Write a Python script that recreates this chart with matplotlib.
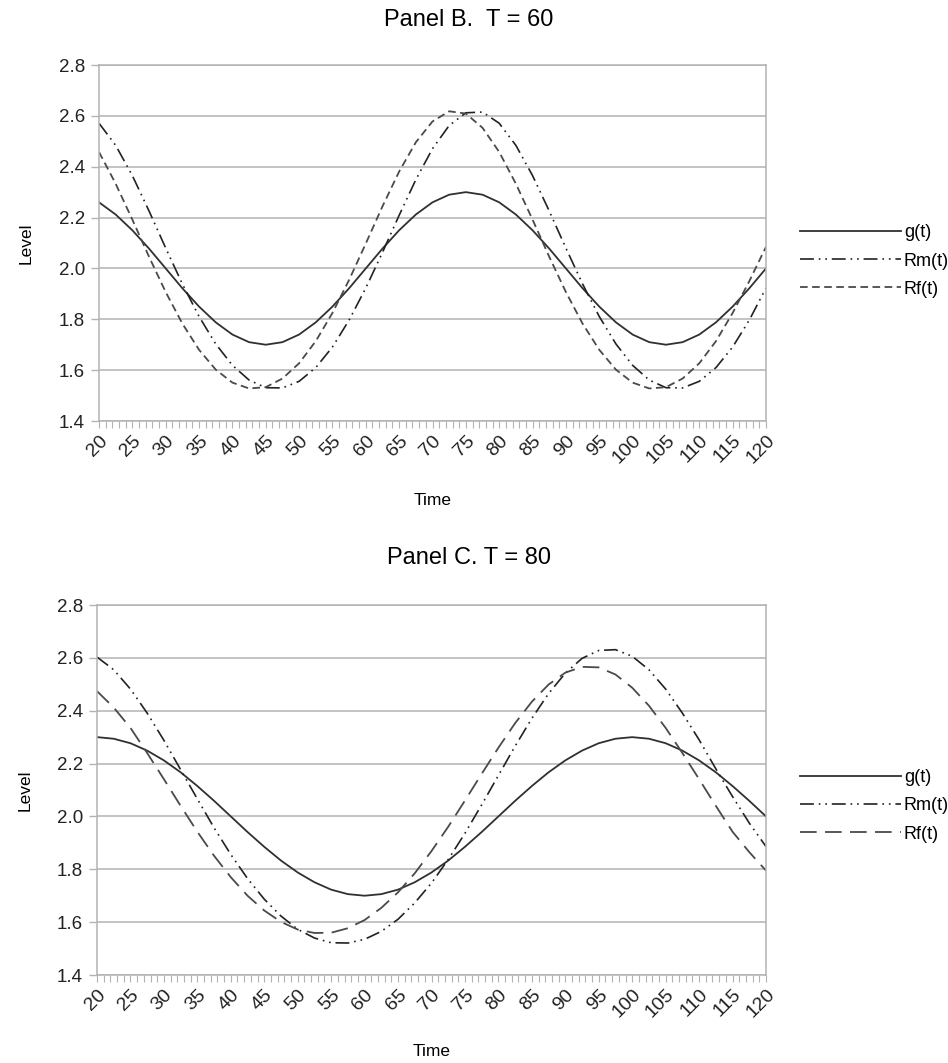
import matplotlib
matplotlib.use("Agg")
import matplotlib.pyplot as plt
import numpy as np
from matplotlib.ticker import MultipleLocator, FormatStrFormatter

plt.rcParams['font.family'] = ['Liberation Sans', 'DejaVu Sans']
plt.rcParams['lines.scale_dashes'] = False

# time grid, one reading every 2.5 time units
time = np.arange(20, 122.5, 2.5)

# Panel B, T = 60
g_b = [2.260, 2.212, 2.150, 2.078, 2.000, 1.922, 1.850, 1.788, 1.740, 1.710,
       1.700, 1.710, 1.740, 1.788, 1.850, 1.922, 2.000, 2.078, 2.150, 2.212,
       2.260, 2.290, 2.300, 2.290, 2.260, 2.212, 2.150, 2.078, 2.000, 1.922,
       1.850, 1.788, 1.740, 1.710, 1.700, 1.710, 1.740, 1.788, 1.850, 1.922,
       2.000]
rm_b = [2.571, 2.484, 2.365, 2.226, 2.080, 1.939, 1.811, 1.703, 1.619, 1.561,
        1.531, 1.530, 1.556, 1.610, 1.691, 1.797, 1.923, 2.063, 2.209, 2.349,
        2.471, 2.562, 2.612, 2.615, 2.571, 2.484, 2.365, 2.226, 2.080, 1.939,
        1.811, 1.703, 1.619, 1.561, 1.531, 1.530, 1.556, 1.610, 1.691, 1.797,
        1.923]
rf_b = [2.458, 2.333, 2.192, 2.046, 1.907, 1.783, 1.680, 1.602, 1.551, 1.528,
        1.533, 1.567, 1.627, 1.714, 1.825, 1.955, 2.098, 2.244, 2.381, 2.496,
        2.578, 2.618, 2.609, 2.553, 2.458, 2.333, 2.192, 2.046, 1.907, 1.783,
        1.680, 1.602, 1.551, 1.528, 1.533, 1.567, 1.627, 1.714, 1.825, 1.950,
        2.085]

# Panel C, T = 80
g_c = [2.300, 2.294, 2.277, 2.249, 2.212, 2.167, 2.115, 2.059, 2.000, 1.941,
       1.885, 1.833, 1.788, 1.751, 1.723, 1.706, 1.700, 1.706, 1.723, 1.751,
       1.788, 1.833, 1.885, 1.941, 2.000, 2.059, 2.115, 2.167, 2.212, 2.249,
       2.277, 2.294, 2.300, 2.294, 2.277, 2.249, 2.212, 2.167, 2.115, 2.059,
       2.000]
rm_c = [2.603, 2.555, 2.482, 2.391, 2.288, 2.177, 2.066, 1.957, 1.856, 1.765,
        1.687, 1.623, 1.573, 1.540, 1.522, 1.521, 1.535, 1.565, 1.611, 1.673,
        1.748, 1.837, 1.936, 2.044, 2.155, 2.266, 2.371, 2.465, 2.542, 2.598,
        2.628, 2.631, 2.606, 2.555, 2.482, 2.391, 2.290, 2.180, 2.075, 1.975,
        1.886]
rf_c = [2.474, 2.412, 2.335, 2.240, 2.141, 2.040, 1.942, 1.851, 1.770, 1.700,
        1.644, 1.601, 1.572, 1.559, 1.560, 1.577, 1.608, 1.654, 1.713, 1.785,
        1.869, 1.961, 2.060, 2.161, 2.260, 2.353, 2.434, 2.499, 2.544, 2.566,
        2.564, 2.537, 2.487, 2.419, 2.335, 2.240, 2.141, 2.040, 1.942, 1.865,
        1.795]

y_ticks = [1.4, 1.6, 1.8, 2.0, 2.2, 2.4, 2.6, 2.8]
labels = ['g(t)', 'Rm(t)', 'Rf(t)']

grey = '#b3b3b3'
dash_dot_dot = (0, (10, 3.5, 1.2, 3.5, 1.2, 3.5))


def draw_panel(ax, g, rm, rf, rf_dash, legend_y, label_y, level_x):
    ax.plot(time, g, color='#303030', lw=1.3, linestyle='-', label=labels[0])
    ax.plot(time, rm, color='#222222', lw=1.2, linestyle=dash_dot_dot, label=labels[1])
    ax.plot(time, rf, color='#4a4a4a', lw=1.3, linestyle=rf_dash, label=labels[2])

    ax.set_xlim(20, 120)
    ax.set_ylim(1.4, 2.8)
    ax.set_yticks(y_ticks)
    ax.yaxis.set_major_formatter(FormatStrFormatter('%.1f'))
    ax.xaxis.set_major_locator(MultipleLocator(5))
    ax.xaxis.set_minor_locator(MultipleLocator(1))

    ax.grid(axis='y', color=grey, lw=1.1)
    ax.set_axisbelow(True)
    for s in ax.spines.values():
        s.set_color(grey)
        s.set_linewidth(1.1)

    ax.tick_params(axis='y', which='major', length=6, width=1.0, color=grey,
                   labelsize=13.5, labelcolor='#222222', pad=4)
    ax.tick_params(axis='x', which='both', length=5, width=0.8, color=grey,
                   labelsize=14, labelcolor='#222222', pad=3)
    for lab in ax.get_xticklabels():
        lab.set_rotation(45)
        lab.set_ha('right')
        lab.set_va('top')
        lab.set_rotation_mode('anchor')

    ax.set_xlabel('Time', fontsize=12.5, family=['Liberation Sans Narrow', 'Liberation Sans'])
    ax.xaxis.set_label_coords(0.5, label_y)
    ax.set_ylabel('Level', fontsize=12.5)
    ax.yaxis.set_label_coords(level_x, 0.5)

    fig.legend(handles=ax.get_lines(), labels=labels, loc='center left',
               bbox_to_anchor=(800 / 948, legend_y), frameon=False,
               fontsize=13, handlelength=5.6, handletextpad=0.15,
               labelspacing=0.62, borderpad=0, borderaxespad=0)


fig = plt.figure(figsize=(9.48, 10.63), dpi=100)
ax_b = fig.add_axes([99 / 948, 1 - 421 / 1063, 667 / 948, 356 / 1063])
ax_c = fig.add_axes([97 / 948, 1 - 975 / 1063, 669 / 948, 370 / 1063])

draw_panel(ax_b, g_b, rm_b, rf_b, (0, (5.5, 3.2)), 1 - 261 / 1063, -0.202, -0.098)
draw_panel(ax_c, g_c, rm_c, rf_c, (0, (12, 6)), 1 - 806 / 1063, -0.186, -0.096)

fig.text(469 / 948, 1 - 20 / 1063, 'Panel B.  T = 60', ha='center', va='center', fontsize=17)
fig.text(469 / 948, 1 - 558 / 1063, 'Panel C. T = 80', ha='center', va='center', fontsize=17)

fig.savefig('out.png', dpi=100)
